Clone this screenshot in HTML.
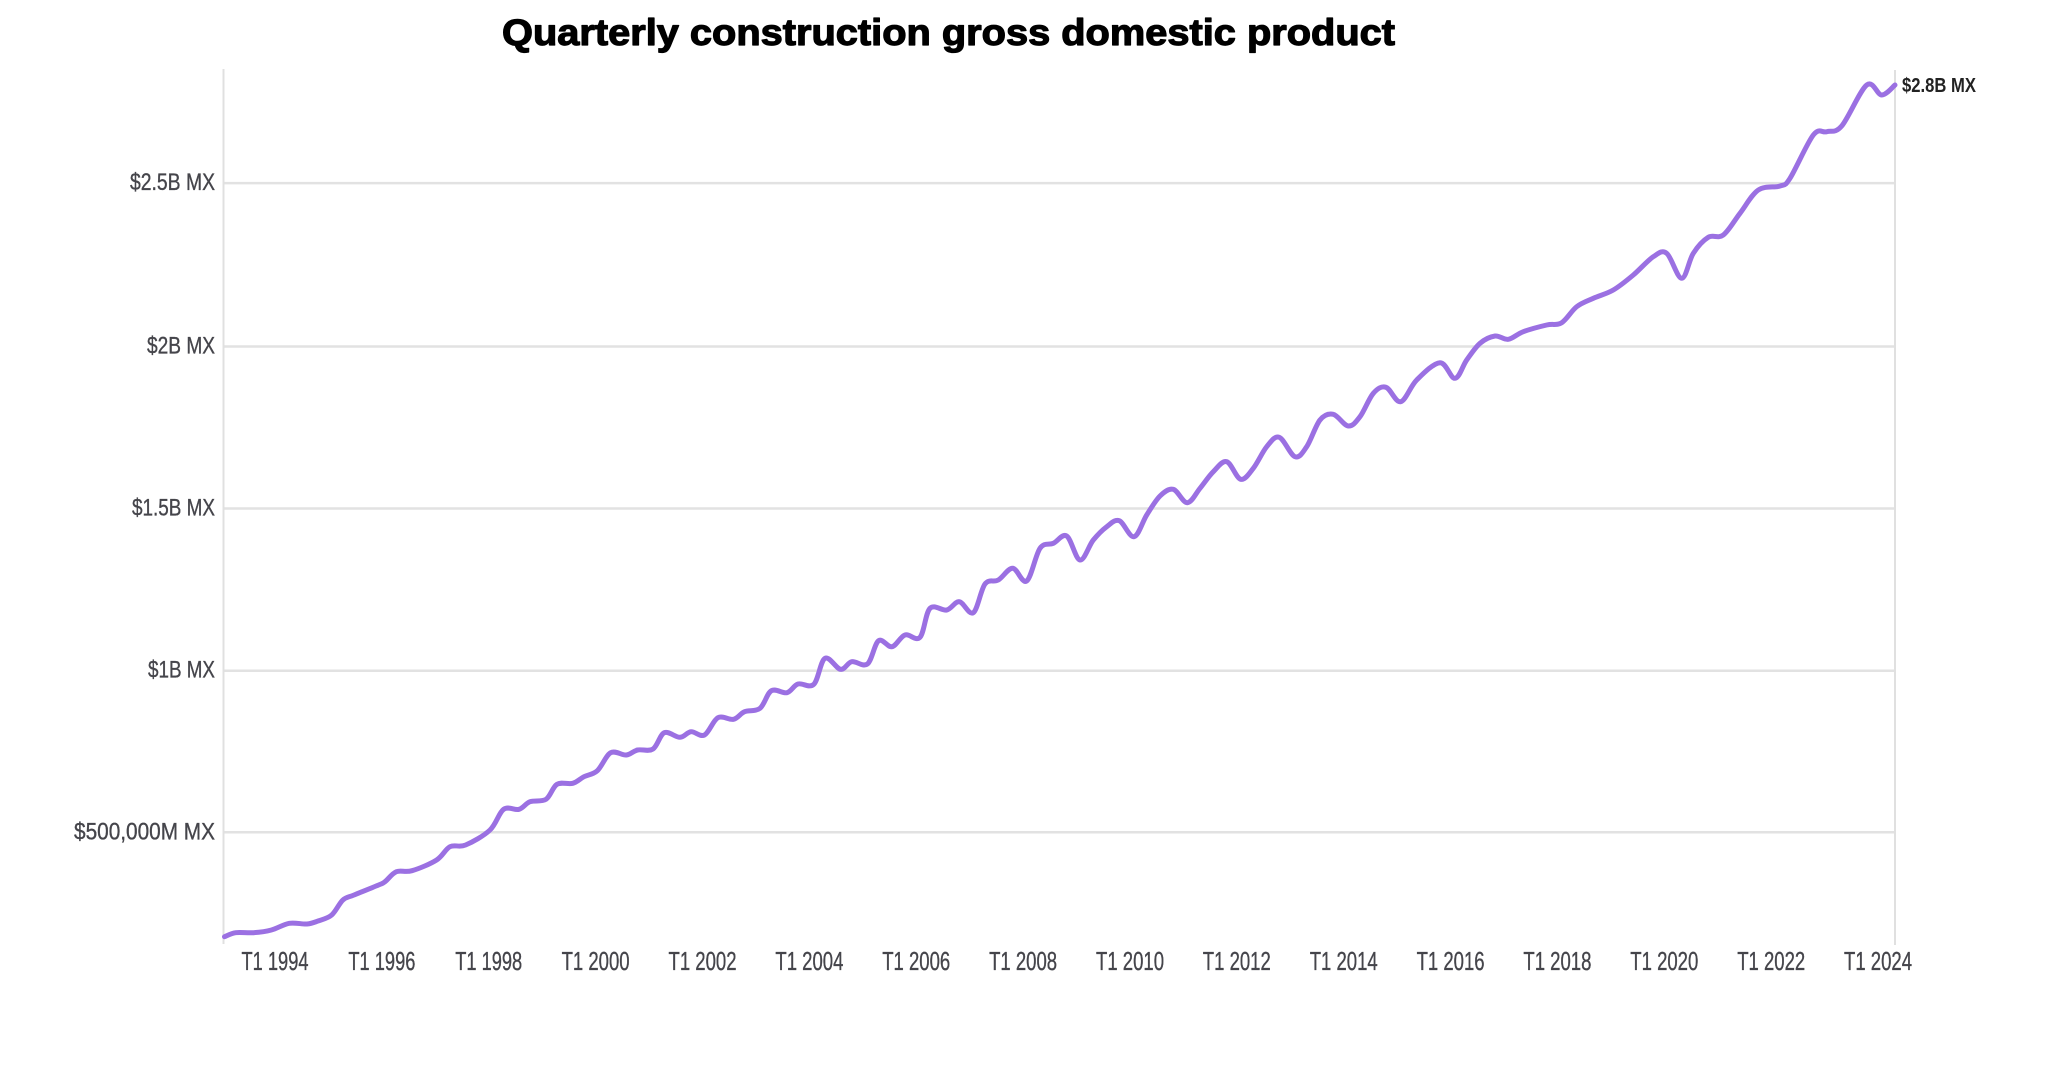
<!DOCTYPE html>
<html>
<head>
<meta charset="utf-8">
<style>
  html, body { margin:0; padding:0; background:#ffffff; }
  body { width:2069px; height:1080px; overflow:hidden; }
  svg { display:block; }
  .yl { font-family:"Liberation Sans", sans-serif; font-size:24px; fill:#45454b; stroke:#45454b; stroke-width:0.35; }
  .xl { font-family:"Liberation Sans", sans-serif; font-size:26px; fill:#45454b; stroke:#45454b; stroke-width:0.35; }
</style>
</head>
<body>
<svg width="2069" height="1080" viewBox="0 0 2069 1080" xmlns="http://www.w3.org/2000/svg">
  <rect x="0" y="0" width="2069" height="1080" fill="#ffffff"/>

  <!-- Title -->
  <text x="502" y="45" font-family="'Liberation Sans', sans-serif" font-weight="bold" font-size="37" fill="#000" stroke="#000" stroke-width="1.2" stroke-linejoin="round" textLength="893" lengthAdjust="spacingAndGlyphs">Quarterly construction gross domestic product</text>

  <!-- gridlines -->
  <g stroke="#e2e2e2" stroke-width="2.5">
    <line x1="224" y1="183.1" x2="1895" y2="183.1"/>
    <line x1="224" y1="346.5" x2="1895" y2="346.5"/>
    <line x1="224" y1="508.5" x2="1895" y2="508.5"/>
    <line x1="224" y1="670.7" x2="1895" y2="670.7"/>
    <line x1="224" y1="832.3" x2="1895" y2="832.3"/>
  </g>
  <!-- axis verticals -->
  <g stroke="#e0e0e0" stroke-width="2">
    <line x1="223.5" y1="69" x2="223.5" y2="944"/>
    <line x1="1895" y1="70" x2="1895" y2="945"/>
  </g>

  <!-- y labels -->
  <text class="yl" x="215" y="190" text-anchor="end" textLength="85" lengthAdjust="spacingAndGlyphs">$2.5B MX</text>
  <text class="yl" x="215" y="353.5" text-anchor="end" textLength="68" lengthAdjust="spacingAndGlyphs">$2B MX</text>
  <text class="yl" x="215" y="515.5" text-anchor="end" textLength="83" lengthAdjust="spacingAndGlyphs">$1.5B MX</text>
  <text class="yl" x="215" y="677.5" text-anchor="end" textLength="67" lengthAdjust="spacingAndGlyphs">$1B MX</text>
  <text class="yl" x="215" y="839.3" text-anchor="end" textLength="141" lengthAdjust="spacingAndGlyphs">$500,000M MX</text>

  <!-- x labels -->
  <g class="xl" text-anchor="middle">
    <text x="275" y="970" textLength="67" lengthAdjust="spacingAndGlyphs">T1 1994</text>
    <text x="381.9" y="970" textLength="67" lengthAdjust="spacingAndGlyphs">T1 1996</text>
    <text x="488.7" y="970" textLength="67" lengthAdjust="spacingAndGlyphs">T1 1998</text>
    <text x="595.6" y="970" textLength="68" lengthAdjust="spacingAndGlyphs">T1 2000</text>
    <text x="702.5" y="970" textLength="68" lengthAdjust="spacingAndGlyphs">T1 2002</text>
    <text x="809.4" y="970" textLength="68" lengthAdjust="spacingAndGlyphs">T1 2004</text>
    <text x="916.2" y="970" textLength="68" lengthAdjust="spacingAndGlyphs">T1 2006</text>
    <text x="1023.1" y="970" textLength="68" lengthAdjust="spacingAndGlyphs">T1 2008</text>
    <text x="1130" y="970" textLength="68" lengthAdjust="spacingAndGlyphs">T1 2010</text>
    <text x="1236.8" y="970" textLength="68" lengthAdjust="spacingAndGlyphs">T1 2012</text>
    <text x="1343.7" y="970" textLength="68" lengthAdjust="spacingAndGlyphs">T1 2014</text>
    <text x="1450.6" y="970" textLength="68" lengthAdjust="spacingAndGlyphs">T1 2016</text>
    <text x="1557.4" y="970" textLength="68" lengthAdjust="spacingAndGlyphs">T1 2018</text>
    <text x="1664.3" y="970" textLength="68" lengthAdjust="spacingAndGlyphs">T1 2020</text>
    <text x="1771.2" y="970" textLength="68" lengthAdjust="spacingAndGlyphs">T1 2022</text>
    <text x="1878" y="970" textLength="68" lengthAdjust="spacingAndGlyphs">T1 2024</text>
  </g>

  <!-- series -->
  <polyline id="series" fill="none" stroke="#9b70e2" stroke-width="5" stroke-linejoin="round" stroke-linecap="round" points="
224.5,936.7 235.7,932.7 253.6,932.7 271.4,930 289.3,923.3 307,924 318,921 331.7,915 342.9,900 354,895
378.6,885 385,881.7 396.4,871.7 412,870.7 436.6,860 450,846.7 465.6,845 490,830 503.6,809.3 519,809.3
530,801.7 546,799.3 557,784.3 572.8,783.3 584,776.7 597.3,770.7 610.7,752.7 626.3,755 637.5,750 653,749
664.3,732.7 680,737.3 691,731.7 704.5,735 717.9,717.7 733.5,719.3 744.6,711.7 760,708.3 771.4,690.7 787,692.7
798,684 813.8,684.3 825,658.3 840.6,669.3 851.8,661.7 867.4,664 878.6,640.7 892,646.7 905,635 920,637.3
930,608.3 946.7,610 959.3,601.7 973.3,612.7 985,584 998.3,580 1012.7,568.3 1026.7,581 1040,548.3 1053.3,543.3
1066.7,536 1080,560 1093.3,540 1106.7,526.7 1119.3,520.7 1134,536.7 1146.7,515 1160,496 1173.3,489.3 1187.3,502.7
1200,488.3 1213.3,471.7 1226.7,461.7 1240.7,479.3 1253.3,468.3 1266.7,446.7 1279.3,437.3 1295,456.7 1306.7,446.7 1320,420
1333.3,414.3 1348.3,426 1360,416.7 1373.3,393.3 1386,387.3 1400.7,401.7 1416.7,380 1440,362.7 1455,378.3 1466.7,360
1480,343.3 1495,336 1508.3,339.3 1523.3,331.7 1546.7,325 1561.7,322.7 1576.7,306.7 1593.3,298.3 1613.3,290 1633.3,275
1653.3,256.7 1666.7,253.3 1681.7,278.3 1693.3,253.3 1708.3,237.3 1723.3,235 1740,213.3 1758.3,190 1780,186 1790,178.3
1813.3,135 1826.7,131.7 1841.7,126 1866.7,85 1881.7,95 1895,85"/>

  <!-- end label -->
  <text x="1902" y="92" font-family="'Liberation Sans', sans-serif" font-weight="bold" font-size="20" fill="#222" textLength="74" lengthAdjust="spacingAndGlyphs">$2.8B MX</text>
</svg>
<script>
(function(){
  try {
    var pl = document.getElementById('series');
    var raw = pl.getAttribute('points').trim().split(/\s+/);
    var p = raw.map(function(s){ var a = s.split(','); return [parseFloat(a[0]), parseFloat(a[1])]; });
    var d = 'M' + p[0][0] + ',' + p[0][1];
    var t = 0.5;
    for (var i = 0; i < p.length - 1; i++) {
      var p0 = p[i-1] || p[i], p1 = p[i], p2 = p[i+1], p3 = p[i+2] || p2;
      var c1x = p1[0] + (p2[0]-p0[0]) * t / 3, c1y = p1[1] + (p2[1]-p0[1]) * t / 3;
      var c2x = p2[0] - (p3[0]-p1[0]) * t / 3, c2y = p2[1] - (p3[1]-p1[1]) * t / 3;
      d += ' C' + c1x.toFixed(1) + ',' + c1y.toFixed(1) + ' ' + c2x.toFixed(1) + ',' + c2y.toFixed(1) + ' ' + p2[0] + ',' + p2[1];
    }
    var ns = 'http://www.w3.org/2000/svg';
    var path = document.createElementNS(ns, 'path');
    path.setAttribute('d', d);
    path.setAttribute('fill', 'none');
    path.setAttribute('stroke', '#9b70e2');
    path.setAttribute('stroke-width', '5');
    path.setAttribute('stroke-linejoin', 'round');
    path.setAttribute('stroke-linecap', 'round');
    pl.parentNode.replaceChild(path, pl);
  } catch(e) {}
})();
</script>
</body>
</html>
